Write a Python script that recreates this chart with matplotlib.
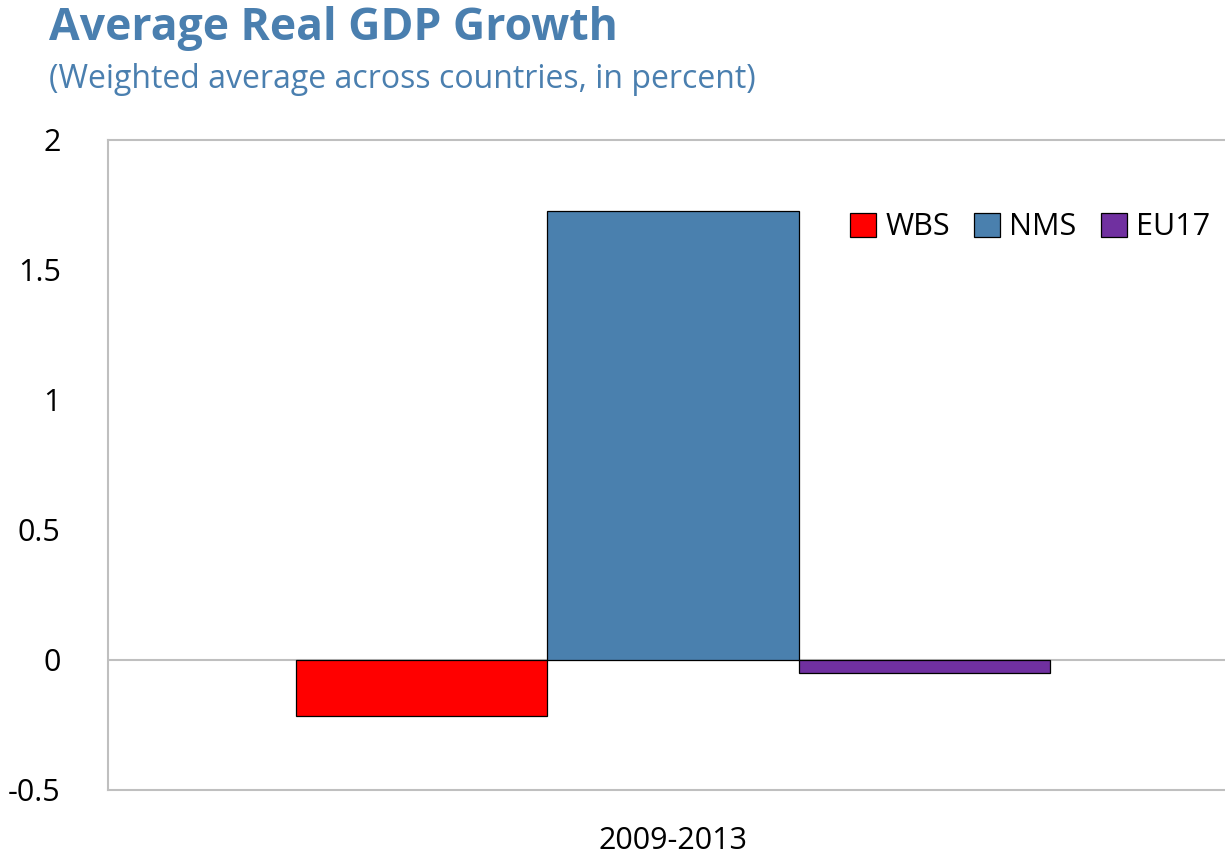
import matplotlib.pyplot as plt
import numpy as np

plt.rcParams["font.family"] = ["Open Sans", "DejaVu Sans"]

period = "2009-2013"
groups = ["WBS", "NMS", "EU17"]
growth = [-0.215, 1.725, -0.05]
colors = ["#FF0000", "#4A80AE", "#7030A0"]

title_blue = "#4A7FAF"
grid_grey = "#BFBFBF"

fig = plt.figure(figsize=(12.25, 8.58), dpi=100)
ax = fig.add_axes([0.0882, 0.0793, 0.9224, 0.7577])

offsets = np.arange(len(groups)) - (len(groups) - 1) / 2
for off, name, val, col in zip(offsets, groups, growth, colors):
    ax.bar(off, val, width=1.0, color=col, edgecolor="black", linewidth=0.9,
           label=name, zorder=3)

ax.axhline(0, color=grid_grey, linewidth=1.5, zorder=2)
ax.set_xlim(-2.25, 2.25)
ax.set_ylim(-0.5, 2)
ax.set_yticks([-0.5, 0, 0.5, 1, 1.5, 2])
ax.set_yticklabels(["-0.5", "0", "0.5", "1", "1.5", "2"])
ax.set_xticks([0])
ax.set_xticklabels([period])
ax.tick_params(axis="both", length=0, labelsize=22, colors="black")
ax.tick_params(axis="y", pad=34)
ax.tick_params(axis="x", pad=26)

for side in ["left", "top", "bottom"]:
    ax.spines[side].set_color(grid_grey)
    ax.spines[side].set_linewidth(1.5)
ax.spines["right"].set_visible(False)

fig.legend(loc="center left", bbox_to_anchor=(0.694, 0.735), ncol=3,
           frameon=False, fontsize=22, handlelength=0.85, handleheight=0.85,
           handletextpad=0.3, columnspacing=0.8, borderpad=0, borderaxespad=0)

fig.text(0.04, 0.967, "Average Real GDP Growth", fontsize=32, fontweight="bold",
         color=title_blue, va="center", ha="left")
fig.text(0.04, 0.907, "(Weighted average across countries, in percent)",
         fontsize=23, color=title_blue, va="center", ha="left")

fig.savefig("out.png", dpi=100)
